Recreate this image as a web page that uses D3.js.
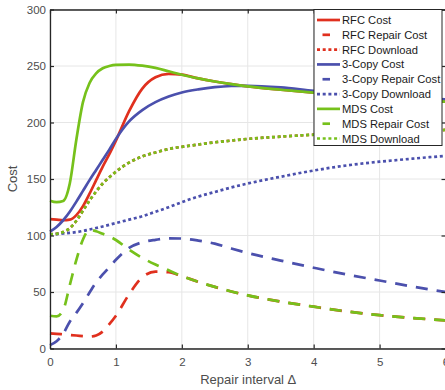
<!DOCTYPE html>
<html><head><meta charset="utf-8">
<script src="https://cdn.jsdelivr.net/npm/d3@7"></script>
<style>body{margin:0;background:#fff}svg{display:block;font-family:"Liberation Sans",Arial,Helvetica,sans-serif}</style>
</head><body><svg id="c" width="445" height="390"></svg>
<script>
const xValues      = [0, 0.1, 0.2, 0.3, 0.4, 0.5, 0.6, 0.7, 0.8, 0.9, 1.0, 1.2, 1.4, 1.6, 1.8, 2.0, 2.25, 2.5, 2.75, 3, 3.5, 4, 4.5, 5, 5.5, 6];
const rfcCost      = [114.5, 114, 113.5, 114, 118, 126, 137, 149, 161, 172, 184, 210, 230, 240, 243, 242.3, 239, 236.3, 234, 232, 229, 226.4, 224, 222, 220, 218.4];
const rfcRepair    = [13.4, 13, 12.5, 12, 11.5, 11, 10.5, 11.5, 15, 21.5, 29, 48, 63, 68, 67.5, 64, 59, 54.5, 50.5, 47, 41.5, 37, 32.8, 29.5, 27, 24.8];
const rfcDownload  = [101, 101.5, 103, 106.5, 113, 122, 131, 139, 146, 151.5, 156.5, 164.5, 170, 173.5, 176.5, 178.5, 180.5, 182.5, 184, 185.5, 187.5, 189.2, 190.5, 191.6, 192.5, 193.4];
const copyCost     = [103.4, 107.5, 113.5, 121, 130, 139.5, 149, 158, 167, 176, 185.5, 201, 211, 218, 223, 226.5, 229.3, 231.3, 232.3, 232.5, 231, 228, 225.5, 223.5, 222, 220.5];
const copyRepair   = [3, 6.5, 13, 23.7, 31.5, 40, 49.5, 58.5, 65.5, 72, 78.5, 89, 94, 96.2, 97.5, 97.3, 95.5, 92.8, 88.5, 84.5, 77.8, 71.5, 65.5, 60.2, 54.8, 50];
const copyDownload = [101, 101.3, 101.8, 102.3, 103, 104, 105.3, 106.6, 108, 109.5, 111, 114, 117, 121, 125, 129.5, 134.5, 138.5, 142.5, 146, 152, 157.5, 162, 165.3, 168, 170.5];
const mdsCost      = [130.8, 129.5, 130.5, 146, 185, 218, 235, 243.5, 248, 250, 251, 251.3, 250.3, 248.3, 245.3, 242.3, 239, 236.3, 234, 232, 229, 226.4, 224, 222, 220, 218.4];
const mdsRepair    = [29, 28.5, 34, 56, 78.5, 96.5, 105, 103.8, 101.5, 99.2, 96, 87.5, 80.2, 74.3, 69.2, 64, 59, 54.5, 50.5, 47, 41.5, 37, 32.8, 29.5, 27, 24.8];
const mdsDownload  = [101, 101.5, 103, 106.5, 113, 122, 131, 139, 146, 151.5, 156.5, 164.5, 170, 173.5, 176.5, 178.5, 180.5, 182.5, 184, 185.5, 187.5, 189.2, 190.5, 191.6, 192.5, 193.4];
const xTicks = [0, 1, 2, 3, 4, 5, 6];
const yTicks = [0, 50, 100, 150, 200, 250, 300];
const seriesNames = ["RFC Cost", "RFC Repair Cost", "RFC Download", "3-Copy Cost", "3-Copy Repair Cost", "3-Copy Download", "MDS Cost", "MDS Repair Cost", "MDS Download"];

const RED = "#e0301e", BLUE = "#4b50ad", GREEN = "#76c11b";
const series = [
  {name: seriesNames[0], vals: rfcCost, color: RED, style: "solid"},
  {name: seriesNames[1], vals: rfcRepair, color: RED, style: "dash"},
  {name: seriesNames[2], vals: rfcDownload, color: RED, style: "dot"},
  {name: seriesNames[3], vals: copyCost, color: BLUE, style: "solid"},
  {name: seriesNames[4], vals: copyRepair, color: BLUE, style: "dash"},
  {name: seriesNames[5], vals: copyDownload, color: BLUE, style: "dot"},
  {name: seriesNames[6], vals: mdsCost, color: GREEN, style: "solid"},
  {name: seriesNames[7], vals: mdsRepair, color: GREEN, style: "dash"},
  {name: seriesNames[8], vals: mdsDownload, color: GREEN, style: "dot"}
];
const dashes = {solid: null, dash: "12,9", dot: "3,2.7"};

const svg = d3.select("#c");
const L = 50, R = 445.5, T = 9.5, B = 348.5;
const x = d3.scaleLinear().domain([0, 6]).range([L, R]);
const y = d3.scaleLinear().domain([0, 300]).range([B, T]);
const axisColor = "#262626", textColor = "#4d4d4d";

// grid
const grid = svg.append("g");
grid.selectAll("line.gx").data(xTicks).join("line")
  .attr("x1", d => x(d)).attr("x2", d => x(d)).attr("y1", T).attr("y2", B)
  .attr("stroke", "#e6e6e6").attr("stroke-width", 1);
grid.selectAll("line.gy").data(yTicks).join("line")
  .attr("x1", L).attr("x2", R).attr("y1", d => y(d)).attr("y2", d => y(d))
  .attr("stroke", "#e6e6e6").attr("stroke-width", 1);

// lines
const line = d3.line().x((d, i) => x(xValues[i])).y(d => y(d)).curve(d3.curveMonotoneX);
const lg = svg.append("g");
series.forEach(s => {
  lg.append("path").attr("d", line(s.vals)).attr("fill", "none")
    .attr("stroke", s.color).attr("stroke-width", 2.7)
    .attr("stroke-dasharray", dashes[s.style]);
});

// axes
function styleAxis(g) {
  g.selectAll(".domain").attr("stroke", axisColor).attr("stroke-width", 1.3);
  g.selectAll(".tick line").attr("stroke", axisColor).attr("stroke-width", 1.2);
  g.selectAll(".tick text").attr("fill", textColor).attr("font-size", "11.5px")
    .attr("font-family", '"Liberation Sans",Arial,Helvetica,sans-serif');
}
svg.append("g").attr("transform", `translate(0,${B})`)
  .call(d3.axisBottom(x).tickValues(xTicks).tickSize(-4).tickSizeOuter(0).tickPadding(9).tickFormat(d3.format("d")))
  .call(styleAxis);
svg.append("g").attr("transform", `translate(0,${T})`)
  .call(d3.axisTop(x).tickValues(xTicks).tickSize(-4).tickSizeOuter(0).tickFormat(""))
  .call(styleAxis);
svg.append("g").attr("transform", `translate(${L},0)`)
  .call(d3.axisLeft(y).tickValues(yTicks).tickSize(-4).tickSizeOuter(0).tickPadding(4).tickFormat(d3.format("d")))
  .call(styleAxis);
svg.append("g").attr("transform", `translate(${R},0)`)
  .call(d3.axisRight(y).tickValues(yTicks).tickSize(-4).tickSizeOuter(0).tickFormat(""))
  .call(styleAxis);

// axis labels
svg.append("text").attr("x", (L + R) / 2 + 0.5).attr("y", 383.5).attr("text-anchor", "middle")
  .attr("fill", textColor).attr("font-size", "13px").text("Repair interval Δ");
svg.append("text").attr("transform", `translate(17,${(T + B) / 2}) rotate(-90)`).attr("text-anchor", "middle")
  .attr("fill", textColor).attr("font-size", "13px").text("Cost");

// legend
const leg = svg.append("g");
const lx = 314, ly = 9.5, lw = 128, lh = 136;
leg.append("rect").attr("x", lx).attr("y", ly).attr("width", lw).attr("height", lh)
  .attr("fill", "#fff").attr("stroke", axisColor).attr("stroke-width", 1);
const rowY = d3.scaleLinear().domain([0, 8]).range([20, 138.5]);
series.forEach((s, i) => {
  const yy = rowY(i);
  if (s.style === "dash") {
    leg.append("line").attr("x1", 322.5).attr("x2", 330).attr("y1", yy).attr("y2", yy)
      .attr("stroke", s.color).attr("stroke-width", 2.7);
  } else {
    leg.append("line").attr("x1", 317).attr("x2", 340).attr("y1", yy).attr("y2", yy)
      .attr("stroke", s.color).attr("stroke-width", 2.7).attr("stroke-dasharray", dashes[s.style]);
  }
  leg.append("text").attr("x", 342).attr("y", yy + 4).attr("fill", "#1a1a1a")
    .attr("font-size", "11.2px").text(s.name);
});
</script></body></html>
